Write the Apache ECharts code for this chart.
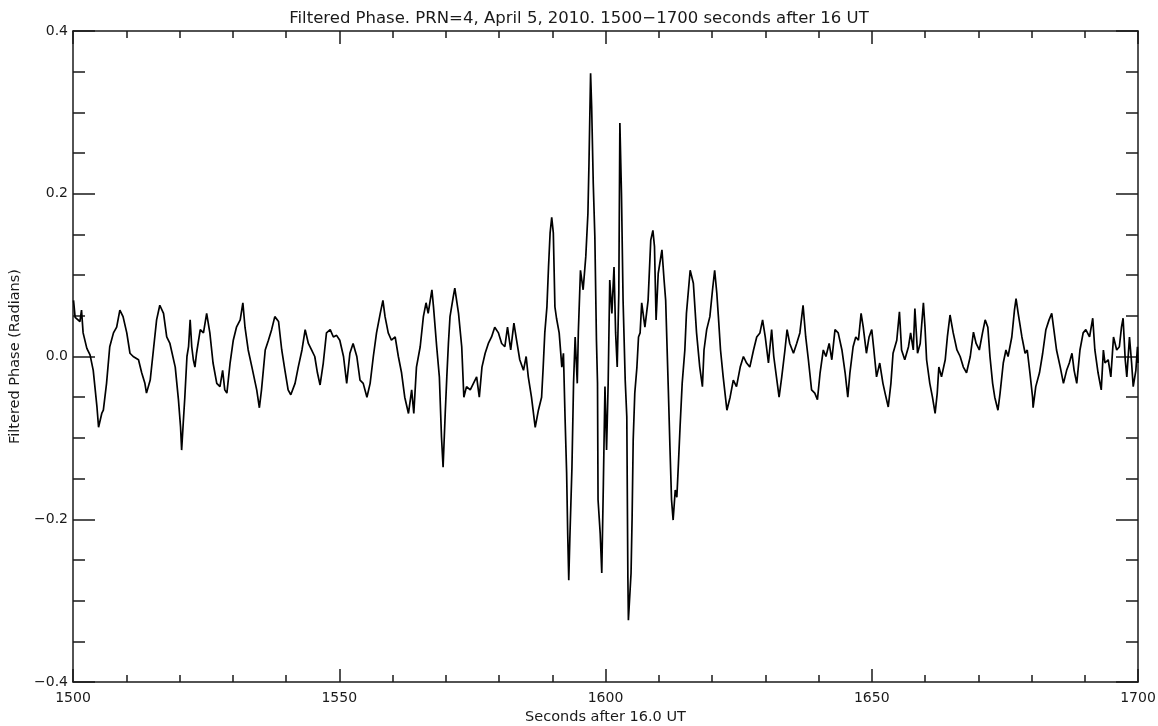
<!DOCTYPE html>
<html>
<head>
<meta charset="utf-8">
<title>Filtered Phase</title>
<script src="https://cdn.jsdelivr.net/npm/echarts@6/dist/echarts.min.js"></script>
<style>
html, body { margin: 0; padding: 0; background: #fff; }
#container { width: 1158px; height: 726px; }
</style>
</head>
<body>
<div id="container"></div>
<script>
// data: seconds after 16 UT, filtered phase (radians)
var seconds = [
    1500.1, 1500.4, 1501.3, 1501.6, 1501.9, 1502.6, 1503.2, 1503.8, 1504.5, 1504.8,
    1505.4, 1505.7, 1506.3, 1506.9, 1507.6, 1508.2, 1508.8, 1509.4, 1510.1, 1510.7,
    1511.3, 1512.3, 1512.9, 1513.5, 1513.8, 1514.5, 1515.1, 1515.7, 1516.3, 1517.0,
    1517.6, 1518.2, 1519.2, 1519.8, 1520.2, 1520.4, 1520.7, 1521.0, 1521.4, 1521.7,
    1522.0, 1522.3, 1522.6, 1522.9, 1523.2, 1523.9, 1524.5, 1525.1, 1525.7, 1526.3,
    1527.0, 1527.6, 1528.1, 1528.5, 1528.9, 1529.5, 1530.1, 1530.7, 1531.4, 1531.9,
    1532.3, 1532.9, 1533.6, 1534.5, 1535.0, 1535.4, 1536.1, 1536.7, 1537.3, 1537.9,
    1538.6, 1539.2, 1539.8, 1540.4, 1540.9, 1541.7, 1542.3, 1543.0, 1543.6, 1544.2,
    1544.8, 1545.4, 1545.9, 1546.4, 1547.0, 1547.6, 1548.3, 1548.9, 1549.5, 1550.1,
    1550.8, 1551.4, 1552.0, 1552.6, 1553.3, 1553.9, 1554.5, 1555.2, 1555.8, 1556.4,
    1557.0, 1557.7, 1558.2, 1558.6, 1559.2, 1559.8, 1560.5, 1561.1, 1561.7, 1562.3,
    1563.0, 1563.6, 1564.0, 1564.5, 1565.2, 1565.8, 1566.3, 1566.7, 1567.4, 1567.7,
    1568.3, 1568.8, 1569.2, 1569.5, 1569.9, 1570.2, 1570.5, 1570.8, 1571.4, 1571.7,
    1572.4, 1573.0, 1573.4, 1573.9, 1574.6, 1575.2, 1575.8, 1576.3, 1576.8, 1577.4,
    1578.0, 1578.6, 1579.2, 1579.9, 1580.5, 1581.1, 1581.6, 1582.2, 1582.8, 1583.3,
    1583.9, 1584.6, 1585.1, 1585.5, 1586.1, 1586.8, 1587.4, 1588.0, 1588.3, 1588.6,
    1589.0, 1589.3, 1589.6, 1589.9, 1590.2, 1590.5, 1590.8, 1591.3, 1591.8, 1592.1,
    1592.4, 1592.7, 1592.9, 1593.1, 1593.3, 1593.7, 1594.0, 1594.3, 1594.7, 1594.9,
    1595.3, 1595.8, 1596.3, 1596.7, 1596.9, 1597.2, 1597.4, 1597.7, 1598.0, 1598.3,
    1598.5, 1598.6, 1599.0, 1599.3, 1599.6, 1599.9, 1600.2, 1600.5, 1600.8, 1601.2,
    1601.6, 1601.9, 1602.2, 1602.5, 1602.7, 1603.0, 1603.3, 1603.7, 1604.0, 1604.2,
    1604.3, 1604.8, 1605.0, 1605.2, 1605.5, 1605.9, 1606.2, 1606.5, 1606.8, 1607.4,
    1608.0, 1608.5, 1608.9, 1609.2, 1609.5, 1609.9, 1610.6, 1611.0, 1611.3, 1611.8,
    1612.1, 1612.4, 1612.7, 1613.1, 1613.4, 1613.7, 1614.0, 1614.4, 1614.9, 1615.2,
    1615.9, 1616.5, 1617.1, 1617.7, 1618.2, 1618.5, 1619.0, 1619.6, 1620.1, 1620.5,
    1620.9, 1621.2, 1621.6, 1622.1, 1622.8, 1623.4, 1624.0, 1624.6, 1625.3, 1625.9,
    1626.5, 1627.1, 1627.8, 1628.4, 1629.0, 1629.5, 1630.0, 1630.6, 1631.2, 1631.6,
    1632.1, 1632.6, 1633.1, 1633.7, 1634.1, 1634.6, 1635.3, 1635.9, 1636.5, 1637.1,
    1637.6, 1638.1, 1638.7, 1639.3, 1639.8, 1640.3, 1640.9, 1641.4, 1642.0, 1642.5,
    1643.1, 1643.7, 1644.4, 1645.0, 1645.5, 1645.9, 1646.5, 1647.0, 1647.5, 1648.0,
    1648.4, 1649.0, 1649.5, 1650.0, 1650.4, 1650.9, 1651.5, 1652.1, 1652.5, 1653.1,
    1653.6, 1654.0, 1654.7, 1655.2, 1655.6, 1656.2, 1656.9, 1657.3, 1657.8, 1658.1,
    1658.6, 1659.1, 1659.7, 1660.0, 1660.3, 1660.9, 1661.4, 1661.9, 1662.3, 1662.6,
    1663.1, 1663.8, 1664.2, 1664.7, 1665.3, 1666.0, 1666.6, 1667.2, 1667.8, 1668.5,
    1669.1, 1669.6, 1670.2, 1670.8, 1671.3, 1671.8, 1672.2, 1672.7, 1673.1, 1673.7,
    1674.1, 1674.7, 1675.2, 1675.6, 1676.3, 1676.8, 1677.1, 1677.5, 1678.2, 1678.8,
    1679.2, 1679.7, 1680.2, 1680.3, 1680.8, 1681.5, 1682.1, 1682.7, 1683.3, 1683.8,
    1684.2, 1684.7, 1685.4, 1686.0, 1686.6, 1687.1, 1687.6, 1688.0, 1688.5, 1689.1,
    1689.7, 1690.2, 1690.9, 1691.5, 1691.9, 1692.5, 1693.1, 1693.5, 1693.8, 1694.4,
    1694.9, 1695.4, 1696.0, 1696.5, 1696.9, 1697.2, 1697.6, 1697.9, 1698.4, 1698.8,
    1699.1, 1699.6, 1699.9, 1700.0
];

var phase = [
    0.069, 0.048, 0.043, 0.057, 0.029, 0.010, 0.002, -0.017, -0.062, -0.087,
    -0.070, -0.066, -0.033, 0.012, 0.029, 0.036, 0.057, 0.049, 0.029, 0.004,
    0.000, -0.004, -0.020, -0.033, -0.045, -0.029, 0.008, 0.045, 0.063, 0.053,
    0.024, 0.016, -0.013, -0.053, -0.087, -0.115, -0.082, -0.050, 0.000, 0.012,
    0.045, 0.012, -0.004, -0.013, 0.004, 0.033, 0.029, 0.053, 0.029, -0.008,
    -0.033, -0.037, -0.017, -0.041, -0.045, -0.008, 0.020, 0.036, 0.045, 0.066,
    0.036, 0.008, -0.013, -0.041, -0.063, -0.041, 0.008, 0.020, 0.033, 0.049,
    0.043, 0.008, -0.017, -0.041, -0.047, -0.033, -0.013, 0.008, 0.033, 0.016,
    0.008, 0.000, -0.020, -0.035, -0.008, 0.029, 0.033, 0.024, 0.026, 0.020,
    0.000, -0.033, 0.004, 0.016, 0.000, -0.029, -0.033, -0.050, -0.033, 0.000,
    0.029, 0.053, 0.069, 0.049, 0.029, 0.020, 0.024, 0.000, -0.020, -0.050,
    -0.070, -0.041, -0.070, -0.013, 0.012, 0.049, 0.066, 0.053, 0.082, 0.061,
    0.012, -0.025, -0.099, -0.136, -0.070, -0.025, 0.016, 0.049, 0.073, 0.084,
    0.053, 0.012, -0.050, -0.037, -0.041, -0.033, -0.025, -0.050, -0.013, 0.004,
    0.016, 0.024, 0.036, 0.029, 0.016, 0.012, 0.036, 0.008, 0.041, 0.020,
    -0.004, -0.017, 0.000, -0.025, -0.050, -0.087, -0.066, -0.050, -0.013, 0.029,
    0.061, 0.110, 0.152, 0.171, 0.152, 0.061, 0.047, 0.029, -0.013, 0.004,
    -0.074, -0.143, -0.217, -0.275, -0.225, -0.136, -0.033, 0.024, -0.033, 0.030,
    0.106, 0.082, 0.123, 0.176, 0.238, 0.348, 0.307, 0.213, 0.147, 0.020,
    -0.033, -0.176, -0.217, -0.266, -0.156, -0.037, -0.115, -0.033, 0.094, 0.053,
    0.110, 0.029, -0.013, 0.078, 0.287, 0.200, 0.069, -0.029, -0.074, -0.271,
    -0.324, -0.266, -0.197, -0.103, -0.045, -0.013, 0.024, 0.029, 0.066, 0.036,
    0.069, 0.143, 0.155, 0.135, 0.045, 0.102, 0.131, 0.094, 0.069, -0.041,
    -0.111, -0.176, -0.201, -0.164, -0.173, -0.131, -0.087, -0.033, 0.008, 0.053,
    0.106, 0.090, 0.029, -0.013, -0.037, 0.008, 0.033, 0.049, 0.082, 0.106,
    0.078, 0.049, 0.008, -0.025, -0.066, -0.050, -0.029, -0.037, -0.013, 0.000,
    -0.008, -0.013, 0.008, 0.024, 0.029, 0.045, 0.024, -0.008, 0.033, 0.000,
    -0.025, -0.050, -0.025, 0.008, 0.033, 0.016, 0.004, 0.016, 0.029, 0.063,
    0.024, -0.004, -0.041, -0.045, -0.053, -0.020, 0.008, 0.000, 0.016, -0.004,
    0.033, 0.029, 0.008, -0.020, -0.050, -0.020, 0.012, 0.024, 0.020, 0.053,
    0.036, 0.004, 0.024, 0.033, 0.008, -0.025, -0.008, -0.033, -0.045, -0.062,
    -0.033, 0.004, 0.020, 0.055, 0.008, -0.004, 0.012, 0.029, 0.008, 0.059,
    0.004, 0.016, 0.066, 0.036, -0.004, -0.033, -0.050, -0.070, -0.045, -0.013,
    -0.025, -0.004, 0.024, 0.051, 0.029, 0.008, 0.000, -0.013, -0.020, 0.000,
    0.030, 0.016, 0.008, 0.029, 0.045, 0.036, 0.000, -0.033, -0.050, -0.066,
    -0.045, -0.008, 0.008, 0.000, 0.024, 0.057, 0.071, 0.053, 0.024, 0.004,
    0.008, -0.020, -0.050, -0.063, -0.037, -0.020, 0.004, 0.033, 0.045, 0.053,
    0.033, 0.008, -0.013, -0.033, -0.017, -0.008, 0.004, -0.017, -0.033, 0.008,
    0.029, 0.033, 0.024, 0.047, 0.008, -0.020, -0.041, 0.008, -0.008, -0.004,
    -0.025, 0.024, 0.008, 0.012, 0.036, 0.047, -0.004, -0.025, 0.024, -0.008,
    -0.037, -0.017, 0.012, -0.008
];

// axis ticks
var xTickValues = [1500, 1550, 1600, 1650, 1700];
var yTickValues = [-0.4, -0.2, 0.0, 0.2, 0.4];

var titleText = 'Filtered Phase. PRN=4, April 5, 2010. 1500\u22121700 seconds after 16 UT';
var xName = 'Seconds after 16.0 UT';
var yName = 'Filtered Phase (Radians)';

var phaseData = [];
for (var i = 0; i < seconds.length; i++) {
    phaseData.push([seconds[i], phase[i]]);
}

var dom = document.getElementById('container');
var myChart = echarts.init(dom, null, {
    renderer: 'canvas',
    useDirtyRect: false
});
var option;

var fontName = 'DejaVu Sans';
var inkColor = '#1a1a1a';

function frameAxisLine() {
    return { show: true, onZero: false, lineStyle: { color: inkColor, width: 1.5 } };
}

// x axes (bottom with labels, top mirrored)
function xAxisFor(position, showLabel) {
    return {
        type: 'value',
        position: position,
        min: xTickValues[0],
        max: xTickValues[xTickValues.length - 1],
        interval: 50,
        axisLine: frameAxisLine(),
        axisTick: { show: true, inside: true, length: 13, lineStyle: { color: inkColor, width: 1.5 } },
        minorTick: { show: true, splitNumber: 5, length: 7, lineStyle: { color: inkColor, width: 1.5 } },
        splitLine: { show: false },
        axisLabel: {
            show: showLabel,
            margin: 9,
            fontFamily: fontName,
            fontSize: 14,
            color: inkColor,
            formatter: function (v) {
                return String(v);
            }
        },
        name: showLabel ? xName : '',
        nameLocation: 'middle',
        nameGap: 27,
        nameTextStyle: { fontFamily: fontName, fontSize: 14.5, color: inkColor }
    };
}

// y axes (left with labels, right mirrored)
function yAxisFor(position, showLabel) {
    return {
        type: 'value',
        position: position,
        min: yTickValues[0],
        max: yTickValues[yTickValues.length - 1],
        interval: 0.2,
        axisLine: frameAxisLine(),
        axisTick: { show: true, inside: true, length: 22, lineStyle: { color: inkColor, width: 1.5 } },
        minorTick: { show: true, splitNumber: 4, length: 12, lineStyle: { color: inkColor, width: 1.5 } },
        splitLine: { show: false },
        axisLabel: {
            show: showLabel,
            margin: 5,
            fontFamily: fontName,
            fontSize: 14,
            color: inkColor,
            formatter: function (v) {
                return v.toFixed(1).replace('-', '\u2212');
            }
        },
        name: showLabel ? yName : '',
        nameLocation: 'middle',
        nameGap: 47,
        nameTextStyle: { fontFamily: fontName, fontSize: 14.5, color: inkColor }
    };
}

option = {
    backgroundColor: '#ffffff',
    animation: false,
    title: {
        text: titleText,
        left: 'center',
        top: 5,
        textStyle: { fontFamily: fontName, fontSize: 16.5, fontWeight: 'normal', color: inkColor }
    },
    // fixed frame, no auto shrink for labels
    grid: { left: 73, right: 20, top: 31, bottom: 44, outerBoundsMode: 'none', containLabel: false },
    xAxis: [xAxisFor('bottom', true), xAxisFor('top', false)],
    yAxis: [yAxisFor('left', true), yAxisFor('right', false)],
    series: [
        {
            type: 'line',
            xAxisIndex: 0,
            yAxisIndex: 0,
            data: phaseData,
            showSymbol: false,
            symbol: 'none',
            lineStyle: { color: '#000', width: 1.7 }
        }
    ]
};

if (option && typeof option === 'object') {
    myChart.setOption(option);
}

window.addEventListener('resize', myChart.resize);
</script>
</body>
</html>
